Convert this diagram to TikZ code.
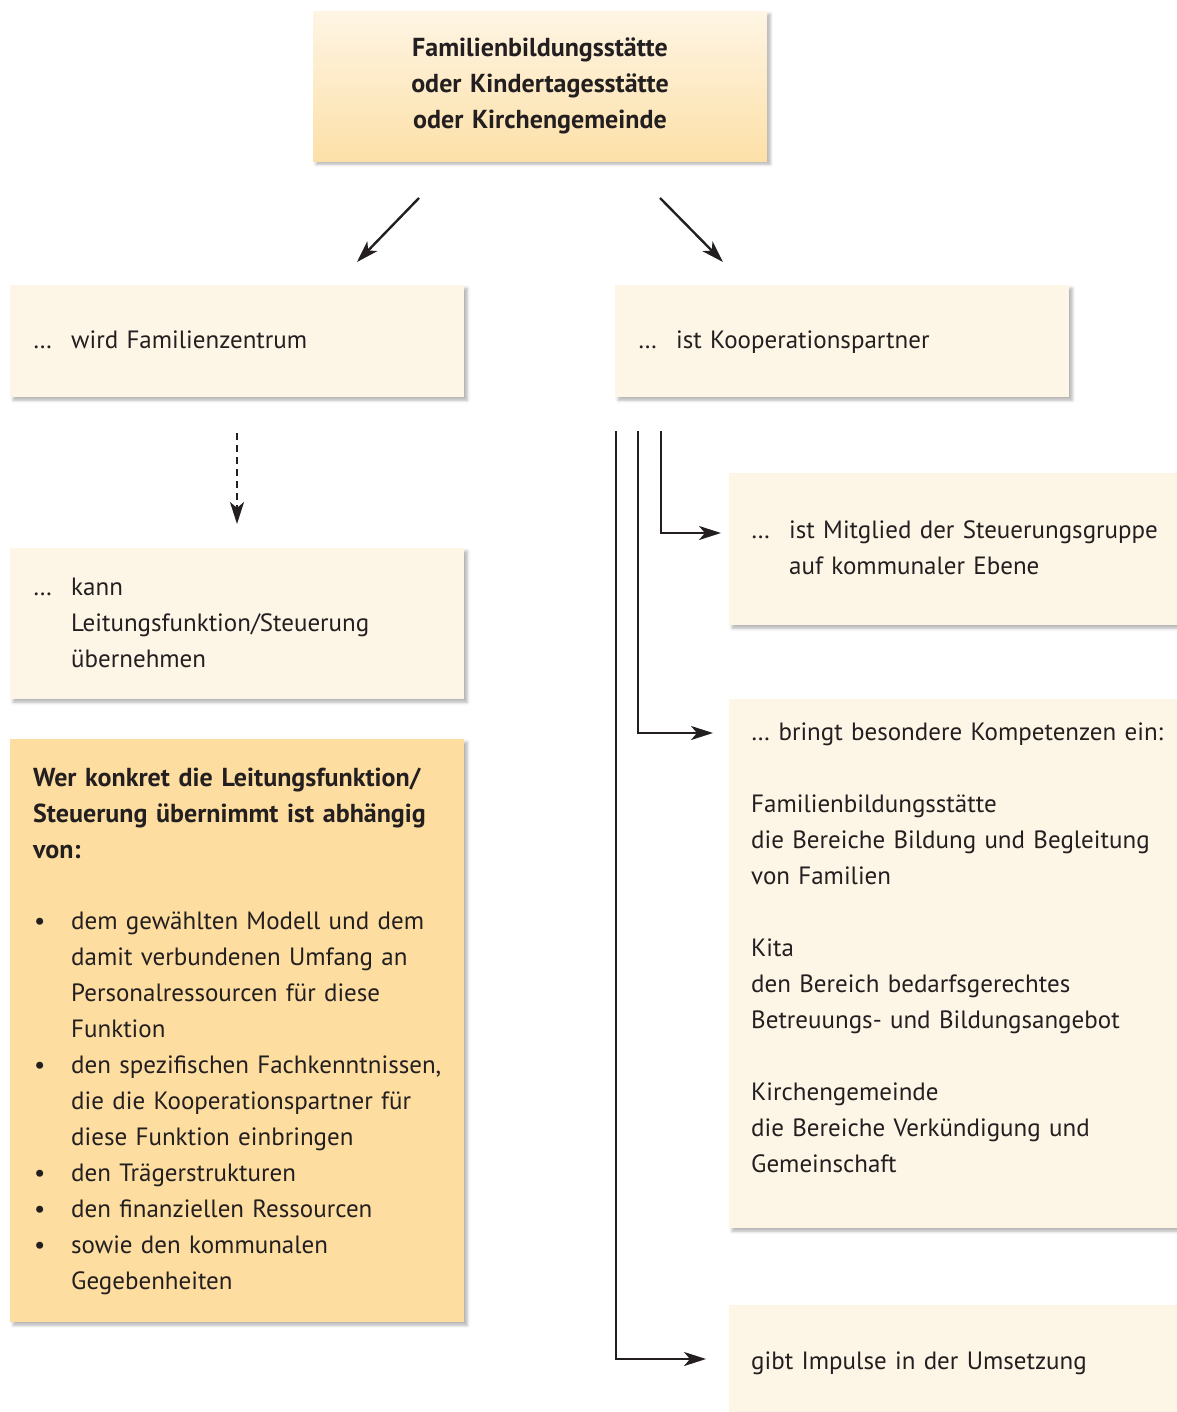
\documentclass[tikz,border=0pt]{standalone}
\usepackage{fontspec}
\setmainfont{PT Sans}
\usetikzlibrary{arrows.meta,shadows.blur}
\definecolor{cream}{RGB}{253,245,230}
\definecolor{orangebox}{RGB}{253,221,160}
\definecolor{gradtop}{RGB}{254,245,228}
\definecolor{gradbot}{RGB}{253,224,168}
\definecolor{ink}{RGB}{35,31,32}
\newcommand\ind{\hspace*{38pt}}
\newcommand\blt{\makebox[38pt][l]{\hspace{1pt}•}}
\newcommand\dts{\makebox[38pt][l]{…}}
\begin{document}
\begin{tikzpicture}[x=1pt,y=-1pt,
  box/.style={draw=none, inner sep=0, anchor=north west, minimum width=454pt,
    blur shadow={shadow xshift=3pt,shadow yshift=-3pt,shadow blur radius=3pt,shadow opacity=30}},
  txt/.style={anchor=base west, inner sep=0, text width=520pt, align=left,
    font=\fontsize{25}{36}\selectfont, text=ink},
  btxt/.style={txt, font=\fontsize{26}{36}\selectfont\bfseries},
  conn/.style={line width=2.4pt, draw=ink, -{Stealth[length=22pt,width=14pt,inset=6pt]}},
]
\path[use as bounding box] (0,0) rectangle (1176,1412);

% boxes
\node[box, top color=gradtop, bottom color=gradbot, minimum height=150pt] (top) at (313,11) {};
\node[box, fill=cream, minimum height=112pt] (fz) at (10,285) {};
\node[box, fill=cream, minimum height=112pt] (kp) at (615,285) {};
\node[box, fill=cream, minimum height=151pt] (kann) at (10,548) {};
\node[box, fill=orangebox, minimum height=583pt] (wer) at (10,739) {};
\node[box, fill=cream, minimum height=152pt, minimum width=460pt] (mit) at (729,473) {};
\node[box, fill=cream, minimum height=529pt, minimum width=460pt] (komp) at (729,699) {};
\node[box, fill=cream, minimum height=120pt, minimum width=460pt] (imp) at (729,1305) {};

% texts
\node[btxt, anchor=base, align=center, text width=454pt] (toptxt) at (540,57)
  {Familienbildungsstätte\\oder Kindertagesstätte\\oder Kirchengemeinde};
\node[txt] (fztxt) at (33,348) {\dts wird Familienzentrum};
\node[txt] (kptxt) at (638,348) {\dts ist Kooperationspartner};
\node[txt] (kanntxt) at (33,595) {\dts kann\\\ind Leitungsfunktion/Steuerung\\\ind übernehmen};
\node[btxt] (werhead) at (33,786)
  {Wer konkret die Leitungsfunktion/\\Steuerung übernimmt ist abhängig\\von:};
\node[txt] (werlist) at (33,929)
  {\blt dem gewählten Modell und dem\\\ind damit verbundenen Umfang an\\\ind Personalressourcen für diese\\\ind Funktion\\
   \blt den spezifischen Fachkenntnissen,\\\ind die die Kooperationspartner für\\\ind diese Funktion einbringen\\
   \blt den Trägerstrukturen\\
   \blt den finanziellen Ressourcen\\
   \blt sowie den kommunalen\\\ind Gegebenheiten};
\node[txt] (mittxt) at (751,538) {\dts ist Mitglied der Steuerungsgruppe\\\ind auf kommunaler Ebene};
\node[txt] (komptxt) at (751,740)
  {… bringt besondere Kompetenzen ein:\\[36pt]
   Familienbildungsstätte\\die Bereiche Bildung und Begleitung\\von Familien\\[36pt]
   Kita\\den Bereich bedarfsgerechtes\\Betreuungs- und Bildungsangebot\\[36pt]
   Kirchengemeinde\\die Bereiche Verkündigung und\\Gemeinschaft};
\node[txt] (imptxt) at (751,1369) {gibt Impulse in der Umsetzung};

% connectors
\coordinate (a1s) at (419,198); \coordinate (a1e) at (357,262);
\coordinate (a2s) at (660,198); \coordinate (a2e) at (723,262);
\draw[conn] (a1s) -- (a1e);
\draw[conn] (a2s) -- (a2e);
\coordinate (ds) at (237,433); \coordinate (de) at (237,524);
\draw[conn, dash pattern=on 7pt off 5pt] (ds) -- (de);

\coordinate (v1) at (616,431); \coordinate (v2) at (638,431); \coordinate (v3) at (661,431);
\coordinate (e3) at (721,533); \coordinate (e2) at (713,733); \coordinate (e1) at (706,1359);
\draw[conn] (v3) |- (e3);
\draw[conn] (v2) |- (e2);
\draw[conn] (v1) |- (e1);
\end{tikzpicture}
\end{document}
